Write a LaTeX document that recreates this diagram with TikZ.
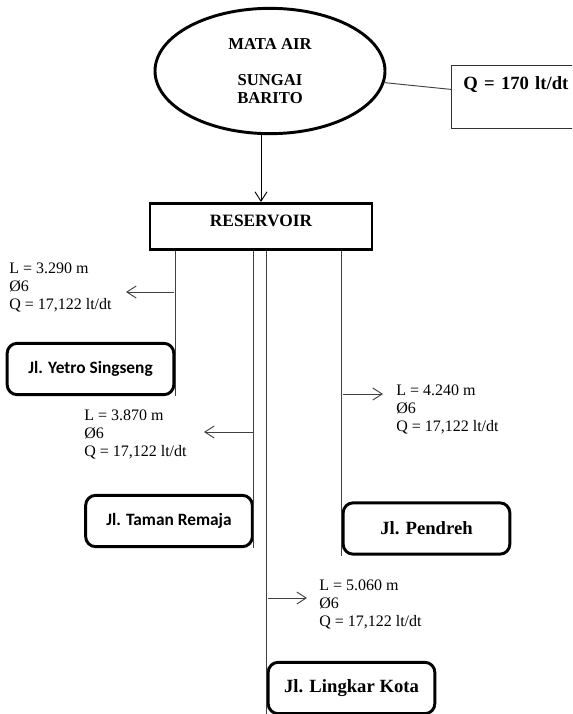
\documentclass[tikz,border=0pt]{standalone}
\usepackage{fontspec}
\setmainfont{Liberation Serif}
\newfontfamily\calibrifont{Carlito}
\usetikzlibrary{arrows.meta,shapes.geometric}

\begin{document}
\begin{tikzpicture}[x=0.75pt,y=-0.75pt]
	  \tikzstyle{source}=[ellipse,line width=2.2pt,draw=black,minimum width=172.5pt,
				  minimum height=94pt,inner sep=0pt,align=center,font=\bfseries\fontsize{12.5}{13.5}\selectfont]
	  \tikzstyle{tank}=[rectangle,line width=2.2pt,draw=black,minimum width=166.5pt,
				  text height=9pt,text depth=9.5pt,inner ysep=8pt,font=\bfseries\fontsize{13}{15}\selectfont]
	  \tikzstyle{flowbox}=[rectangle,draw=black!80,line width=0.6pt,anchor=north west,align=left,
				  text width=90pt,inner xsep=9pt,inner ysep=8.5pt,text height=9.5pt,text depth=20.5pt,
				  font=\bfseries\fontsize{14}{16}\selectfont]
	  \tikzstyle{street}=[rectangle,rounded corners=7.5pt,line width=2.2pt,draw=black,
				  minimum width=125pt,minimum height=38.5pt,font=\bfseries\fontsize{14}{16}\selectfont]
	  \tikzstyle{street_sans}=[street,font=\calibrifont\bfseries\fontsize{13}{15}\selectfont]
	  \tikzstyle{pipe}=[draw=black!75,line width=0.7pt]
	  \tikzstyle{pipe_arrow}=[pipe,-{Straight Barb[length=7pt,width=9pt]}]
	  \tikzstyle{pipe_data}=[anchor=north west,inner sep=0pt,align=left,font=\fontsize{12}{13.5}\selectfont]

	\clip (0,0) rectangle (572,714);

	\node (mata_air) [source] at (270,71) {MATA AIR\\[13.5pt]SUNGAI\\BARITO};
	\node (debit) [flowbox] at (451,65) {Q = 170 lt/dt};
	\node (reservoir) [tank,anchor=north] at (261,202) {RESERVOIR};

	\node (yetro_singseng) [street_sans] at (90.5,369) {Jl. Yetro Singseng};
	\node (taman_remaja) [street_sans] at (169,521) {Jl. Taman Remaja};
	\node (pendreh) [street] at (426.5,528.5) {Jl. Pendreh};
	\node (lingkar_kota) [street] at (351.5,688) {Jl. Lingkar Kota};

	\node (yetro_data) [pipe_data] at (9,263) {L = 3.290 m\\Ø6\\Q = 17,122 lt/dt};
	\node (taman_data) [pipe_data] at (84,410) {L = 3.870 m\\Ø6\\Q = 17,122 lt/dt};
	\node (pendreh_data) [pipe_data] at (396,385) {L = 4.240 m\\Ø6\\Q = 17,122 lt/dt};
	\node (lingkar_data) [pipe_data] at (319,580) {L = 5.060 m\\Ø6\\Q = 17,122 lt/dt};

	\draw[pipe] (mata_air) -- (debit);
	\draw[pipe_arrow,draw=black] (mata_air.south -| reservoir.north) -- (reservoir.north);

	\draw[pipe] (reservoir.south -| yetro_singseng.east) -- (yetro_singseng.south east);
	\draw[pipe] (reservoir.south -| taman_remaja.east) -- (taman_remaja.south east);
	\draw[pipe] (reservoir.south -| pendreh.west) -- (pendreh.south west);
	\draw[pipe] (reservoir.south -| lingkar_kota.west) -- (lingkar_kota.south west);

	\coordinate (yetro_tap) at (174,292);
	\coordinate (yetro_tip) at (126,292);
	\coordinate (taman_tap) at (253,432);
	\coordinate (taman_tip) at (204,432);
	\coordinate (pendreh_tap) at (343,394);
	\coordinate (pendreh_tip) at (383,394);
	\coordinate (lingkar_tap) at (268,598);
	\coordinate (lingkar_tip) at (307,598);

	\draw[pipe_arrow] (yetro_tap) -- (yetro_tip);
	\draw[pipe_arrow] (taman_tap) -- (taman_tip);
	\draw[pipe_arrow] (pendreh_tap) -- (pendreh_tip);
	\draw[pipe_arrow] (lingkar_tap) -- (lingkar_tip);

		%\draw[pipe] (reservoir) -- (lingkar_kota);
	\end{tikzpicture}
\end{document}
